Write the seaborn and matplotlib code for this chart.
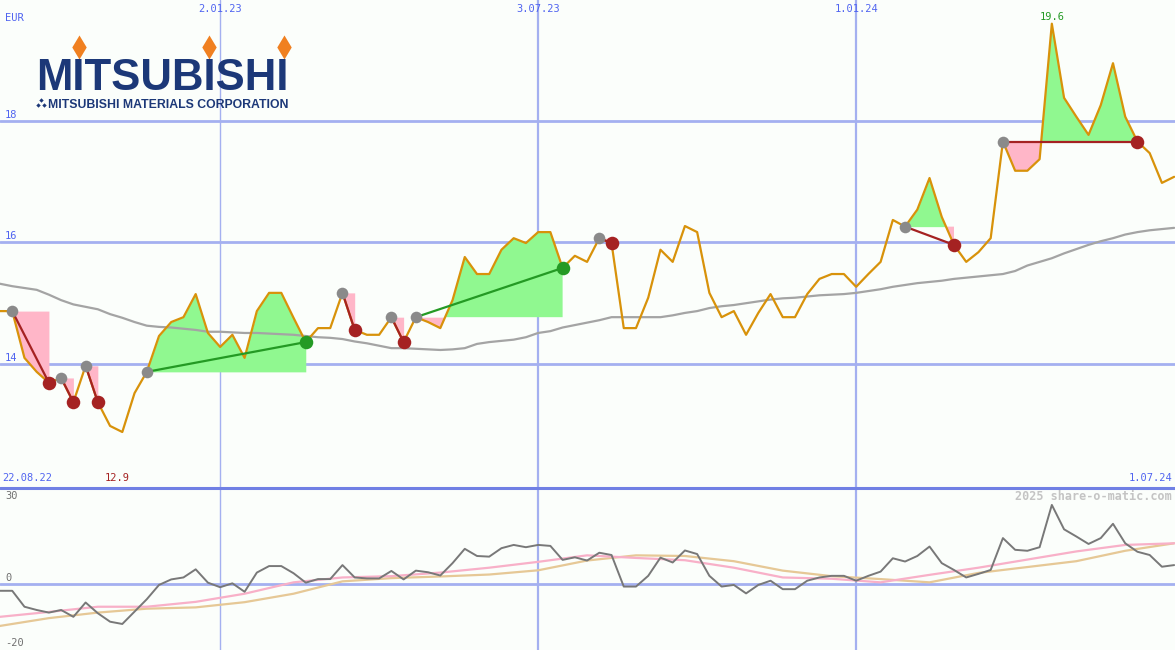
import numpy as np
import matplotlib
matplotlib.use("Agg")
import matplotlib.pyplot as plt
from matplotlib.lines import Line2D
import seaborn as sns

# ==========================================================
# DATA (weekly, index 0 = first plotted week)
# ==========================================================

weeks = np.arange(97)

price = [
    14.87, 14.87, 14.10, 13.87, 13.69, 13.77, 13.37, 13.97, 13.37, 12.98,
    12.88, 13.52, 13.87, 14.46, 14.69, 14.77, 15.15, 14.51, 14.28, 14.48,
    14.10, 14.87, 15.17, 15.17, 14.76, 14.36, 14.59, 14.59, 15.17, 14.56,
    14.48, 14.48, 14.77, 14.36, 14.77, 14.69, 14.59, 15.05, 15.76, 15.48,
    15.48, 15.88, 16.07, 15.99, 16.17, 16.17, 15.58, 15.78, 15.68, 16.07,
    15.99, 14.59, 14.59, 15.09, 15.88, 15.68, 16.27, 16.17, 15.17, 14.77,
    14.87, 14.48, 14.84, 15.15, 14.77, 14.77, 15.15, 15.40, 15.48, 15.48,
    15.27, 15.48, 15.68, 16.37, 16.26, 16.54, 17.06, 16.42, 15.96, 15.68,
    15.84, 16.07, 17.66, 17.18, 17.18, 17.37, 19.60, 18.38, 18.07, 17.77,
    18.26, 18.95, 18.07, 17.66, 17.47, 16.98, 17.08,
]

moving_avg = [
    15.32, 15.28, 15.25, 15.22, 15.14, 15.05, 14.98, 14.94, 14.90, 14.82,
    14.76, 14.69, 14.63, 14.61, 14.60, 14.58, 14.56, 14.53, 14.53, 14.52,
    14.51, 14.51, 14.50, 14.49, 14.48, 14.46, 14.44, 14.43, 14.41, 14.37,
    14.34, 14.30, 14.26, 14.26, 14.25, 14.24, 14.23, 14.24, 14.26, 14.33,
    14.36, 14.38, 14.40, 14.44, 14.51, 14.54, 14.60, 14.64, 14.68, 14.72,
    14.77, 14.77, 14.77, 14.77, 14.77, 14.80, 14.84, 14.87, 14.92, 14.95,
    14.97, 15.00, 15.03, 15.06, 15.08, 15.09, 15.11, 15.13, 15.14, 15.15,
    15.17, 15.20, 15.23, 15.27, 15.30, 15.33, 15.35, 15.37, 15.40, 15.42,
    15.44, 15.46, 15.48, 15.53, 15.62, 15.68, 15.74, 15.82, 15.89, 15.96,
    16.02, 16.07, 16.13, 16.17, 16.20, 16.22, 16.24,
]

# lower panel: deviation from average (%)
deviation = [
    -2.1, -2.1, -7.0, -8.0, -8.8, -8.0, -10.1, -5.7, -9.0, -11.6,
    -12.3, -8.5, -4.7, -0.3, 1.4, 2.0, 4.5, 0.4, -1.0, 0.2,
    -2.4, 3.5, 5.5, 5.5, 3.3, 0.4, 1.5, 1.5, 5.8, 2.0,
    1.7, 1.7, 4.0, 1.4, 4.1, 3.6, 2.6, 6.4, 10.8, 8.6,
    8.4, 11.0, 12.0, 11.3, 12.0, 11.7, 7.4, 8.2, 7.2, 9.6,
    8.9, -0.8, -0.8, 2.5, 8.1, 6.6, 10.3, 9.2, 2.5, -0.8,
    -0.3, -2.9, -0.3, 1.0, -1.6, -1.6, 1.0, 2.0, 2.5, 2.5,
    1.0, 2.5, 3.8, 7.9, 6.9, 8.6, 11.5, 6.4, 4.3, 2.0,
    3.1, 4.3, 14.1, 10.5, 10.2, 11.3, 24.3, 16.8, 14.6, 12.3,
    14.1, 18.5, 12.5, 9.9, 8.9, 5.3, 5.8,
]

smooth_weeks = np.arange(0, 97, 4)
signal_pink = [
    -10.1, -8.6, -7.0, -7.0, -5.5, -3.0, 0.5, 2.0, 2.4, 3.5, 5.0, 6.8, 8.8,
    8.0, 7.3, 5.0, 2.0, 1.6, 0.5, 2.8, 5.0, 7.5, 10.0, 12.0, 12.5,
]
signal_tan = [
    -12.9, -10.5, -8.8, -7.6, -7.2, -5.6, -3.0, 0.8, 1.8, 2.3, 2.9, 4.2, 7.2,
    8.8, 8.6, 7.0, 4.1, 2.4, 1.5, 0.5, 3.4, 5.2, 7.0, 10.2, 12.5,
]

# trades (week index of entry / exit)
entry_weeks = [1, 5, 7, 12, 28, 32, 34, 49, 74, 82]
exit_weeks = [4, 6, 8, 25, 29, 33, 46, 50, 78, 93]
trade_won = [False, False, False, True, False, False, True, False, False, False]

date_weeks = [18, 44, 70]
date_labels = ["2.01.23", "3.07.23", "1.01.24"]
start_label = "22.08.22"
end_label = "1.07.24"
price_ticks = [14, 16, 18]
dev_ticks = [30, 0, -20]

# ==========================================================
# STYLE
# ==========================================================

BG = "#fbfefb"
GRID = "#a4b0f0"
SEP = "#7080e4"
AXIS_TXT = "#5064f0"
ORANGE = "#d8920a"
MA_GREY = "#a4a4a4"
PINK_FILL = "#ffb6c8"
GREEN_FILL = "#90f890"
RED = "#a52222"
GREEN = "#249a24"
DOT_GREY = "#8a8a8a"
NAVY = "#1c3878"

sns.set_style("white")
plt.rcParams["font.family"] = ["DejaVu Sans Mono"]

W, H = 1175, 650
fig = plt.figure(figsize=(W / 100, H / 100), dpi=100)
fig.patch.set_facecolor(BG)

ax = fig.add_axes([0, 163 / H, 1, 487 / H])
ax2 = fig.add_axes([0, 0, 1, 162 / H])

price_arr = np.array(price)

for a in (ax, ax2):
    a.set_facecolor(BG)
    a.set_xlim(0, 96.07)
    a.set_axis_off()

ax.set_ylim(11.975, 19.99)
ax2.set_ylim(-20.3, 29.5)

# ==========================================================
# MAIN PANEL
# ==========================================================

for t in price_ticks:
    ax.axhline(t, color=GRID, lw=2, zorder=1)
    ax.annotate(str(t), xy=(5 / W, t), xycoords=ax.get_yaxis_transform(),
                xytext=(0, 1), textcoords="offset points",
                ha="left", va="bottom", color=AXIS_TXT, fontsize=7.5)

for i, (wk, lab) in enumerate(zip(date_weeks, date_labels)):
    lw = 1.0 if i == 0 else 1.6
    ax.axvline(wk, color=GRID, lw=lw, zorder=1)
    ax2.axvline(wk, color=GRID, lw=lw, zorder=1)
    ax.text(wk, 1 - 9 / 487, lab, transform=ax.get_xaxis_transform(),
            ha="center", va="center", color=AXIS_TXT, fontsize=7.5)

ax.text(5 / W, 1 - 18 / 487, "EUR", transform=ax.transAxes,
        ha="left", va="center", color=AXIS_TXT, fontsize=7.5)
ax.text(2 / W, 9 / 487, start_label, transform=ax.transAxes,
        ha="left", va="center", color=AXIS_TXT, fontsize=7.5)
ax.text(1172 / W, 9 / 487, end_label, transform=ax.transAxes,
        ha="right", va="center", color=AXIS_TXT, fontsize=7.5)

# trade areas
for e, x_, won in zip(entry_weeks, exit_weeks, trade_won):
    seg = weeks[e:x_ + 1]
    p = price_arr[e:x_ + 1]
    lvl = price_arr[e]
    ax.fill_between(seg, p, lvl, where=p >= lvl, interpolate=True,
                    color=GREEN_FILL, lw=0, zorder=2)
    ax.fill_between(seg, p, lvl, where=p <= lvl, interpolate=True,
                    color=PINK_FILL, lw=0, zorder=2)

sns.lineplot(x=weeks, y=moving_avg, ax=ax, color=MA_GREY, lw=1.6, zorder=3)
sns.lineplot(x=weeks, y=price, ax=ax, color=ORANGE, lw=1.6, zorder=4)

for e, x_, won in zip(entry_weeks, exit_weeks, trade_won):
    c = GREEN if won else RED
    ax.plot([e, x_], [price_arr[e], price_arr[x_]], color=c, lw=1.6, zorder=5)
    ax.scatter([e], [price_arr[e]], s=70, color=DOT_GREY, lw=0, zorder=6)
    ax.scatter([x_], [price_arr[x_]], s=95, color=c, lw=0, zorder=6)

lo = int(np.argmin(price_arr))
hi = int(np.argmax(price_arr))
ax.text(lo - 0.4, 9 / 487, f"{price_arr[lo]:.1f}", transform=ax.get_xaxis_transform(),
        ha="center", va="center", color=RED, fontsize=7.5)
ax.annotate(f"{price_arr[hi]:.1f}", xy=(hi, price_arr[hi]), xytext=(0, 1),
            textcoords="offset points", ha="center", va="bottom",
            color=GREEN, fontsize=7.5)

# ==========================================================
# LOWER PANEL
# ==========================================================

ax2.axhline(0, color=GRID, lw=2, zorder=1)
sns.lineplot(x=smooth_weeks, y=signal_tan, ax=ax2, color="#e6c896", lw=1.6, zorder=3)
sns.lineplot(x=smooth_weeks, y=signal_pink, ax=ax2, color="#f8b0c8", lw=1.6, zorder=3)
sns.lineplot(x=weeks, y=deviation, ax=ax2, color="#787878", lw=1.4, zorder=4)

ax2.annotate(str(dev_ticks[0]), xy=(5 / W, dev_ticks[0]), xycoords=ax2.get_yaxis_transform(),
             xytext=(0, -3), textcoords="offset points", ha="left", va="top",
             color="#707070", fontsize=7.5)
ax2.annotate(str(dev_ticks[1]), xy=(5 / W, dev_ticks[1]), xycoords=ax2.get_yaxis_transform(),
             xytext=(0, 1), textcoords="offset points", ha="left", va="bottom",
             color="#707070", fontsize=7.5)
ax2.annotate(str(dev_ticks[2]), xy=(5 / W, dev_ticks[2]), xycoords=ax2.get_yaxis_transform(),
             xytext=(0, 1), textcoords="offset points", ha="left", va="bottom",
             color="#707070", fontsize=7.5)

ax2.text(1172 / W, 1 - 8 / 162, "2025 share-o-matic.com", transform=ax2.transAxes,
         ha="right", va="center", color="#c4c4c4", fontsize=8.5, fontweight="bold")

fig.add_artist(Line2D([0, 1], [162.5 / H, 162.5 / H], transform=fig.transFigure,
                      color=SEP, lw=2.2))

# ==========================================================
# LOGO
# ==========================================================

lg = fig.add_axes([30 / W, (H - 112) / H, 270 / W, 82 / H])
lg.set_xlim(30, 300)
lg.set_ylim(112, 30)
lg.set_axis_off()
logo_font = ["Liberation Sans", "DejaVu Sans"]
lg.text(36, 90, "MITSUBISHI", ha="left", va="baseline", color=NAVY,
        fontsize=31.5, fontweight="bold", family=logo_font)
lg.scatter([78.5, 209, 284], [47, 47, 47], marker="d", s=150, color="#f08020", lw=0)
lg.text(48, 107.5, "MITSUBISHI MATERIALS CORPORATION", ha="left", va="baseline",
        color=NAVY, fontsize=8.8, fontweight="bold", family=logo_font)
lg.scatter([41, 38, 44], [99.5, 104.5, 104.5], marker="D", s=5, color=NAVY, lw=0)

fig.savefig("out.png", dpi=100, facecolor=BG)
